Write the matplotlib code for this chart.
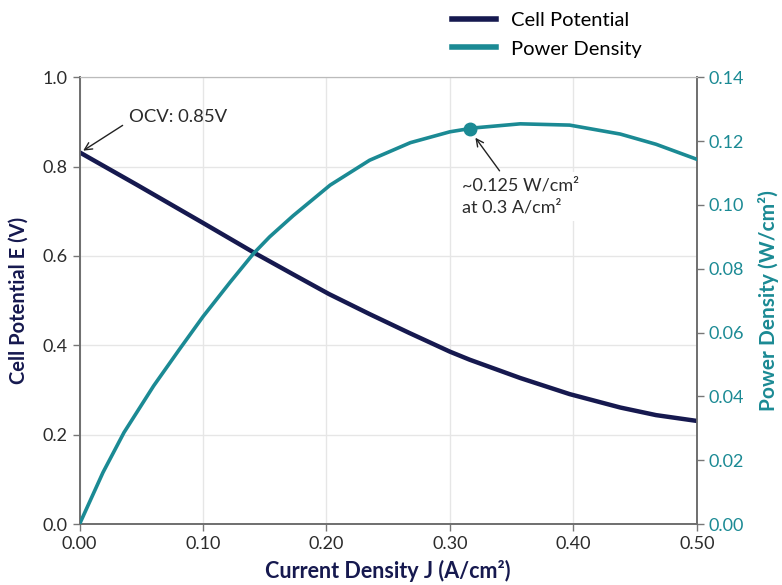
import matplotlib.pyplot as plt
from matplotlib.lines import Line2D

NAVY = "#16194f"
TEAL = "#1b8a94"
TEXT = "#2b2b2b"

# values
potential_j = [0.0, 0.046, 0.100, 0.141, 0.173, 0.202, 0.235, 0.267, 0.300, 0.316,
               0.357, 0.397, 0.438, 0.467, 0.500]
potential = [0.832, 0.760, 0.674, 0.608, 0.559, 0.515, 0.470, 0.428, 0.386, 0.368,
             0.327, 0.291, 0.261, 0.244, 0.231]

power_j = [0.0, 0.019, 0.036, 0.060, 0.081, 0.100, 0.122, 0.141, 0.154, 0.173, 0.203,
           0.235, 0.268, 0.300, 0.319, 0.357, 0.397, 0.438, 0.467, 0.500]
power = [0.0, 0.0162, 0.0287, 0.0433, 0.0548, 0.0650, 0.0758, 0.0848, 0.0900, 0.0966, 0.1062,
         0.1140, 0.1195, 0.1229, 0.1241, 0.1254, 0.1250, 0.1222, 0.1190, 0.1143]

peak_j = 0.316
peak_p = 0.1239

x_ticks = [0.0, 0.1, 0.2, 0.3, 0.4, 0.5]
x_labels = ["0.00", "0.10", "0.20", "0.30", "0.40", "0.50"]
e_ticks = [0.0, 0.2, 0.4, 0.6, 0.8, 1.0]
p_ticks = [0.0, 0.02, 0.04, 0.06, 0.08, 0.10, 0.12, 0.14]
p_labels = ["0.00", "0.02", "0.04", "0.06", "0.08", "0.10", "0.12", "0.14"]

plt.rcParams["font.family"] = ["Lato", "DejaVu Sans"]

fig = plt.figure(figsize=(7.82, 5.85), dpi=100)
ax = fig.add_axes([0.1017, 0.104, 0.7893, 0.764])
ax2 = ax.twinx()

ax.plot(potential_j, potential, color=NAVY, lw=3.2, solid_joinstyle="round", zorder=3)
ax2.plot(power_j, power, color=TEAL, lw=2.6, solid_joinstyle="round", zorder=3)
ax2.plot([peak_j], [peak_p], "o", color=TEAL, ms=9, zorder=4)

ax.set_xlim(0, 0.5)
ax.set_ylim(0, 1.0)
ax2.set_ylim(0, 0.14)
ax.set_xticks(x_ticks)
ax.set_xticklabels(x_labels)
ax.set_yticks(e_ticks)
ax2.set_yticks(p_ticks)
ax2.set_yticklabels(p_labels)

ax.grid(True, color="#e6e6e6", lw=1.0)
ax.set_axisbelow(True)

ax.tick_params(axis="both", labelsize=13, colors="#777777", labelcolor=TEXT, length=5, width=1)
ax2.tick_params(axis="y", labelsize=13, colors="#777777", labelcolor=TEAL, length=5, width=1)

for a in (ax, ax2):
    for side in ("left", "bottom", "right"):
        a.spines[side].set_color("#6e6e6e")
        a.spines[side].set_linewidth(1.2)
    a.spines["top"].set_color("#bbbbbb")

ax.set_xlabel("Current Density J (A/cm²)", fontsize=15.5, fontweight="bold", color=NAVY, labelpad=6)
ax.set_ylabel("Cell Potential E (V)", fontsize=14.5, fontweight="bold", color=NAVY, labelpad=10)
ax2.set_ylabel("Power Density (W/cm²)", fontsize=15, fontweight="bold", color=TEAL, labelpad=10)

ax.annotate("OCV: 0.85V", xy=(0.002, 0.834), xytext=(0.040, 0.912),
            fontsize=13.3, color=TEXT, va="center", ha="left",
            arrowprops=dict(arrowstyle="->", color="#222222", lw=1.0, shrinkA=3, shrinkB=1,
                            relpos=(0.0, 0.2)))

ax2.annotate("~0.125 W/cm²\nat 0.3 A/cm²", xy=(peak_j + 0.004, peak_p - 0.0025), xytext=(0.310, 0.1026),
             fontsize=13, color=TEXT, va="center", ha="left", linespacing=1.5,
             bbox=dict(boxstyle="square,pad=0.3", fc="white", ec="none"),
             arrowprops=dict(arrowstyle="->", color="#222222", lw=1.0, shrinkA=1, shrinkB=1,
                             relpos=(0.36, 1.0)))

handles = [Line2D([], [], color=NAVY, lw=4), Line2D([], [], color=TEAL, lw=4)]
fig.legend(handles, ["Cell Potential", "Power Density"], loc="upper left",
           bbox_to_anchor=(0.555, 1.01), frameon=False, fontsize=14.5,
           handlelength=2.2, labelspacing=0.55, handletextpad=0.7)

fig.savefig("out.png", dpi=100)
